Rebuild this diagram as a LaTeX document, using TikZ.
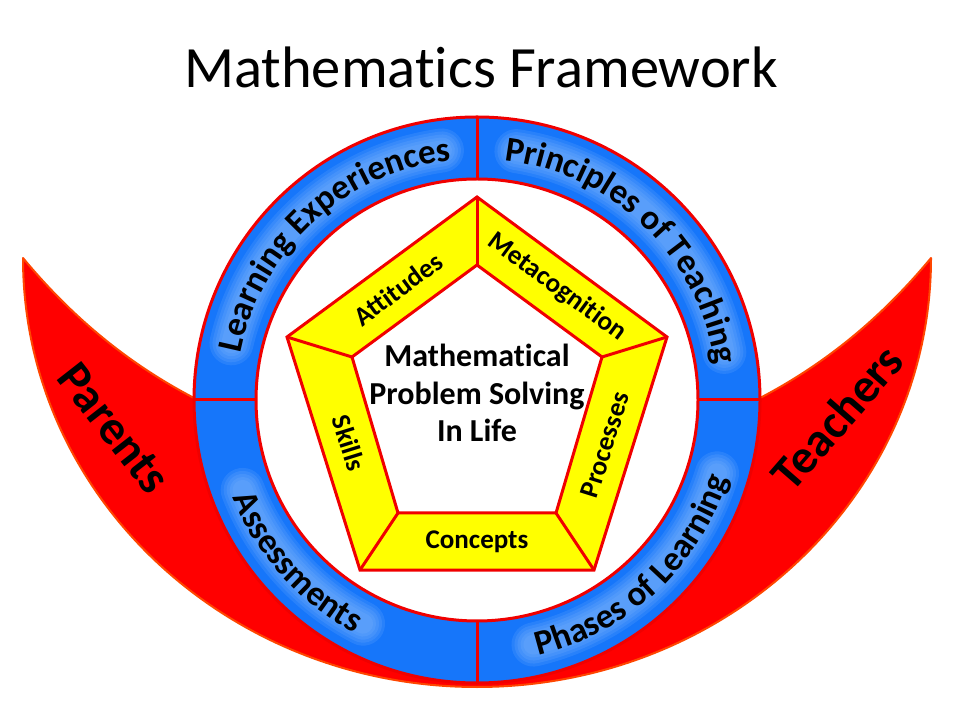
\documentclass[tikz,border=0pt]{standalone}
\usepackage{fontspec}
\setmainfont[Ligatures=NoCommon]{Carlito}
\usetikzlibrary{decorations.text}
\definecolor{ringblue}{RGB}{22,118,250}
\definecolor{glowblue}{RGB}{140,190,255}
\definecolor{crescred}{RGB}{255,0,0}
\definecolor{crescedge}{RGB}{255,70,0}
\definecolor{linered}{RGB}{240,0,0}
\definecolor{bandyellow}{RGB}{255,255,0}
\newcommand\ringfont{\bfseries\fontsize{35}{35}\selectfont}
\begin{document}
\begin{tikzpicture}[x=1pt,y=1pt,
  redline/.style={draw=linered, line width=3pt, line join=miter},
  bandtxt/.style={font=\bfseries\fontsize{27}{27}\selectfont, inner sep=0pt},
  bigtxt/.style={font=\bfseries\fontsize{48}{48}\selectfont, inner sep=0pt},
  glow/.style={draw=glowblue, opacity=0.16, line cap=round},
  ringtext/.style={decorate, decoration={text along path, text align=center, text={|\ringfont|#1}}}]
\useasboundingbox (0,0) rectangle (960,720);
\fill[white] (0,0) rectangle (960,720);

% title
\node[font=\fontsize{58.5}{58.5}\selectfont, anchor=base, inner sep=0pt] (title) at (481,632) {Mathematics Framework};

\coordinate (C) at (477,320);

% crescents
\coordinate (LT) at (23,462);
\coordinate (RT) at (931,462);
\coordinate (LM) at (194,322);
\coordinate (RM) at (760,322);
\path[fill=crescred, draw=crescedge, line width=2pt, line join=round]
  (LT) .. controls (71,404) and (127,357) .. (LM) -- (C) -- (RM)
  .. controls (827,357) and (883,404) .. (RT)
  arc[start angle=0, end angle=-180, x radius=454pt, y radius=429pt] -- cycle;

% ring
\fill[ringblue] (C) circle[radius=283pt];
\fill[white] (C) circle[radius=221pt];
% glow around ring texts
\foreach \w in {44,38,32,26,20} {
  \draw[glow, line width=\w pt] ([shift={(167:252pt)}]C) arc[start angle=167, end angle=98, radius=252pt];
  \draw[glow, line width=\w pt] ([shift={(81:252pt)}]C) arc[start angle=81, end angle=11, radius=252pt];
  \draw[glow, line width=\w pt] ([shift={(201:251pt)}]C) arc[start angle=201, end angle=243, radius=251pt];
  \draw[glow, line width=\w pt] ([shift={(283:251pt)}]C) arc[start angle=283, end angle=343, radius=251pt];
}
\draw[redline] (C) circle[radius=283pt];
\draw[redline] (C) circle[radius=221pt];
\foreach \a in {0,90,180,270} {
  \draw[redline] ([shift={(\a:221pt)}]C) -- ([shift={(\a:283pt)}]C);
}

% ring texts
\path[ringtext={Learning Experiences}] ([shift={(177.5:241pt)}]C) arc[start angle=177.5, end angle=87.5, radius=241pt];
\path[ringtext={Principles of Teaching}] ([shift={(91:241pt)}]C) arc[start angle=91, end angle=1, radius=241pt];
\path[ringtext={Assessments}] ([shift={(177:263pt)}]C) arc[start angle=177, end angle=267, radius=263pt];
\path[ringtext={Phases of Learning}] ([shift={(268:263pt)}]C) arc[start angle=268, end angle=358, radius=263pt];

% pentagon
\coordinate (T) at (477,523);
\coordinate (L) at (287,383);
\coordinate (R) at (667,383);
\coordinate (BL) at (360,150);
\coordinate (BR) at (594,150);
\coordinate (t) at (477,455);
\coordinate (l) at (352,363);
\coordinate (r) at (602,363);
\coordinate (bl) at (398,207);
\coordinate (br) at (556,207);
\fill[bandyellow] (T) -- (R) -- (BR) -- (BL) -- (L) -- cycle;
\fill[white] (t) -- (r) -- (br) -- (bl) -- (l) -- cycle;
\draw[redline] (T) -- (R) -- (BR) -- (BL) -- (L) -- cycle;
\draw[redline] (t) -- (r) -- (br) -- (bl) -- (l) -- cycle;
\draw[redline] (T) -- (t);
\draw[redline] (R) -- (r);
\draw[redline] (BR) -- (br);
\draw[redline] (BL) -- (bl);
\draw[redline] (L) -- (l);

% band texts
\node[bandtxt, rotate=36.4] (att) at (398,431) {Attitudes};
\node[bandtxt, rotate=-36.4] (meta) at (557,433) {Metacognition};
\node[bandtxt, rotate=72.6] (proc) at (605,275) {Processes};
\node[bandtxt, rotate=-72.6] (skill) at (349,277) {Skills};
\node[bandtxt] (conc) at (477,178) {Concepts};

% centre
\node[align=center, font=\bfseries\fontsize{32}{37.5}\selectfont, inner sep=0pt] (core) at (477,327) {Mathematical\\Problem Solving\\In Life};

% crescent labels
\node[bigtxt, rotate=-52] (parents) at (114,292) {Parents};
\node[bigtxt, rotate=49] (teachers) at (837,303) {Teachers};
\end{tikzpicture}
\end{document}
